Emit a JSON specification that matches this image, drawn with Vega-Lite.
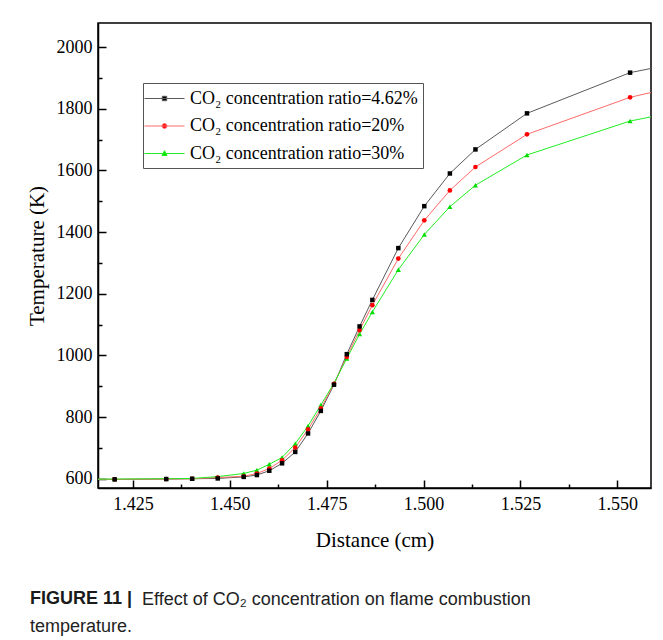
{
  "$schema": "https://vega.github.io/schema/vega-lite/v6.json",
  "padding": {"left": 25, "top": 22, "right": 5, "bottom": 5},
  "background": "white",
  "title": {
    "text": "Effect of CO₂ concentration on flame combustion",
    "orient": "bottom",
    "anchor": "start",
    "frame": "group",
    "dx": 44,
    "dy": -46,
    "offset": 0,
    "font": "Liberation Sans",
    "fontSize": 18,
    "fontWeight": "normal",
    "color": "#222222"
  },
  "vconcat": [
    {
      "width": 553,
      "height": 465,
      "title": {
        "text": "FIGURE 11 |",
        "orient": "bottom",
        "anchor": "start",
        "frame": "group",
        "dx": -68,
        "offset": 40,
        "font": "Liberation Sans",
        "fontSize": 18,
        "fontWeight": "bold",
        "color": "#1a1a1a",
        "subtitle": "temperature.",
        "subtitleFont": "Liberation Sans",
        "subtitleFontSize": 18,
        "subtitleColor": "#222222",
        "subtitlePadding": 10
      },
      "data": {
        "values": [
          {"d": 1.4070, "T": 598, "s": "4.62%"}, {"d": 1.4070, "T": 598, "s": "20%"}, {"d": 1.4070, "T": 598, "s": "30%"},
          {"d": 1.4203, "T": 598, "s": "4.62%"}, {"d": 1.4203, "T": 598, "s": "20%"}, {"d": 1.4203, "T": 599, "s": "30%"},
          {"d": 1.4336, "T": 599, "s": "4.62%"}, {"d": 1.4336, "T": 599, "s": "20%"}, {"d": 1.4336, "T": 600, "s": "30%"},
          {"d": 1.4403, "T": 600, "s": "4.62%"}, {"d": 1.4403, "T": 600, "s": "20%"}, {"d": 1.4403, "T": 601, "s": "30%"},
          {"d": 1.4469, "T": 601, "s": "4.62%"}, {"d": 1.4469, "T": 604, "s": "20%"}, {"d": 1.4469, "T": 607, "s": "30%"},
          {"d": 1.4536, "T": 606, "s": "4.62%"}, {"d": 1.4536, "T": 608, "s": "20%"}, {"d": 1.4536, "T": 617, "s": "30%"},
          {"d": 1.4570, "T": 612, "s": "4.62%"}, {"d": 1.4570, "T": 617, "s": "20%"}, {"d": 1.4570, "T": 628, "s": "30%"},
          {"d": 1.4602, "T": 626, "s": "4.62%"}, {"d": 1.4602, "T": 633, "s": "20%"}, {"d": 1.4602, "T": 647, "s": "30%"},
          {"d": 1.4635, "T": 650, "s": "4.62%"}, {"d": 1.4635, "T": 660, "s": "20%"}, {"d": 1.4635, "T": 669, "s": "30%"},
          {"d": 1.4669, "T": 687, "s": "4.62%"}, {"d": 1.4669, "T": 701, "s": "20%"}, {"d": 1.4669, "T": 714, "s": "30%"},
          {"d": 1.4702, "T": 747, "s": "4.62%"}, {"d": 1.4702, "T": 760, "s": "20%"}, {"d": 1.4702, "T": 771, "s": "30%"},
          {"d": 1.4735, "T": 820, "s": "4.62%"}, {"d": 1.4735, "T": 828, "s": "20%"}, {"d": 1.4735, "T": 839, "s": "30%"},
          {"d": 1.4769, "T": 905, "s": "4.62%"}, {"d": 1.4769, "T": 908, "s": "20%"}, {"d": 1.4769, "T": 910, "s": "30%"},
          {"d": 1.4802, "T": 1004, "s": "4.62%"}, {"d": 1.4802, "T": 995, "s": "20%"}, {"d": 1.4802, "T": 990, "s": "30%"},
          {"d": 1.4835, "T": 1094, "s": "4.62%"}, {"d": 1.4835, "T": 1082, "s": "20%"}, {"d": 1.4835, "T": 1069, "s": "30%"},
          {"d": 1.4868, "T": 1180, "s": "4.62%"}, {"d": 1.4868, "T": 1163, "s": "20%"}, {"d": 1.4868, "T": 1141, "s": "30%"},
          {"d": 1.4935, "T": 1348, "s": "4.62%"}, {"d": 1.4935, "T": 1314, "s": "20%"}, {"d": 1.4935, "T": 1278, "s": "30%"},
          {"d": 1.5002, "T": 1484, "s": "4.62%"}, {"d": 1.5002, "T": 1438, "s": "20%"}, {"d": 1.5002, "T": 1392, "s": "30%"},
          {"d": 1.5068, "T": 1590, "s": "4.62%"}, {"d": 1.5068, "T": 1535, "s": "20%"}, {"d": 1.5068, "T": 1482, "s": "30%"},
          {"d": 1.5134, "T": 1668, "s": "4.62%"}, {"d": 1.5134, "T": 1611, "s": "20%"}, {"d": 1.5134, "T": 1552, "s": "30%"},
          {"d": 1.5267, "T": 1785, "s": "4.62%"}, {"d": 1.5267, "T": 1717, "s": "20%"}, {"d": 1.5267, "T": 1650, "s": "30%"},
          {"d": 1.5533, "T": 1917, "s": "4.62%"}, {"d": 1.5533, "T": 1837, "s": "20%"}, {"d": 1.5533, "T": 1760, "s": "30%"},
          {"d": 1.5800, "T": 1984, "s": "4.62%"}, {"d": 1.5800, "T": 1914, "s": "20%"}, {"d": 1.5800, "T": 1827, "s": "30%"}
        ]
      },
      "layer": [
        {
          "mark": {"type": "line", "strokeWidth": 1, "clip": true},
          "encoding": {
            "x": {
              "field": "d", "type": "quantitative",
              "scale": {"domain": [1.416, 1.5587], "nice": false, "zero": false},
              "axis": {
                "orient": "bottom",
                "values": [1.425, 1.45, 1.475, 1.5, 1.525, 1.55],
                "format": ".3f",
                "tickSize": -8,
                "labelPadding": 15,
                "title": "Distance (cm)",
                "titlePadding": 16
              }
            },
            "y": {
              "field": "T", "type": "quantitative",
              "scale": {"domain": [570, 2078], "nice": false, "zero": false},
              "axis": {
                "orient": "left",
                "values": [600, 800, 1000, 1200, 1400, 1600, 1800, 2000],
                "format": "d",
                "tickSize": -8,
                "labelPadding": 14,
                "title": "Temperature (K)",
                "titlePadding": 9
              }
            },
            "stroke": {
              "field": "s", "type": "nominal",
              "scale": {"domain": ["4.62%", "20%", "30%"], "range": ["#5a5a5a", "#ff6a6a", "#22ee22"]},
              "legend": {
                "orient": "none",
                "legendX": 45,
                "legendY": 60,
                "title": null,
                "labelExpr": "'CO₂ concentration ratio=' + datum.label",
                "labelFont": "Liberation Serif",
                "labelFontSize": 18,
                "labelColor": "black",
                "labelLimit": 0,
                "labelOffset": 15,
                "symbolSize": 400,
                "symbolStrokeWidth": 1,
                "symbolType": "M-2,0H2",
                "symbolOffset": 6,
                "strokeColor": "#555555",
                "fillColor": "white",
                "padding": 5,
                "rowPadding": 7.5,
                "encode": {
                  "symbols": {
                    "update": {
                      "shape": {"signal": "datum.value === '4.62%' ? 'M-2,0H2M-0.22,-0.22H0.22V0.22H-0.22Z' : (datum.value === '20%' ? 'M-2,0H2M-0.24,0A0.24,0.24 0 1,0 0.24,0A0.24,0.24 0 1,0 -0.24,0Z' : 'M-2,0H2M0,-0.28L0.26,0.2H-0.26Z')"},
                      "fill": {"signal": "datum.value === '4.62%' ? '#000000' : (datum.value === '20%' ? '#ff0000' : '#00dd00')"}
                    }
                  }
                }
              }
            }
          }
        },
        {
          "transform": [{"filter": "datum.s === '30%'"}],
          "mark": {"type": "point", "filled": true, "opacity": 1, "size": 26, "shape": "triangle-up", "color": "#00dd00", "clip": true},
          "encoding": {
            "x": {
              "field": "d", "type": "quantitative",
              "axis": {
                "orient": "bottom",
                "values": [1.4375, 1.4625, 1.4875, 1.5125, 1.5375],
                "labels": false, "domain": false, "tickSize": -4, "title": null
              }
            },
            "y": {
              "field": "T", "type": "quantitative",
              "axis": {
                "orient": "left",
                "values": [700, 900, 1100, 1300, 1500, 1700, 1900],
                "labels": false, "domain": false, "tickSize": -4, "title": null
              }
            }
          }
        },
        {
          "transform": [{"filter": "datum.s === '20%'"}],
          "mark": {"type": "point", "filled": true, "opacity": 1, "size": 22, "shape": "circle", "color": "#ff0000", "clip": true},
          "encoding": {
            "x": {"field": "d", "type": "quantitative", "axis": null},
            "y": {"field": "T", "type": "quantitative", "axis": null}
          }
        },
        {
          "transform": [{"filter": "datum.s === '4.62%'"}],
          "mark": {"type": "point", "filled": true, "opacity": 1, "size": 20, "shape": "square", "color": "#000000", "clip": true},
          "encoding": {
            "x": {"field": "d", "type": "quantitative", "axis": null},
            "y": {"field": "T", "type": "quantitative", "axis": null}
          }
        }
      ],
      "resolve": {"axis": {"x": "independent", "y": "independent"}}
    }
  ],
  "config": {
    "view": {"stroke": "black", "strokeWidth": 1.5},
    "axis": {
      "domainColor": "black",
      "domainWidth": 1.5,
      "tickColor": "black",
      "tickWidth": 1.5,
      "labelFont": "Liberation Serif",
      "labelFontSize": 18,
      "labelColor": "black",
      "titleFont": "Liberation Serif",
      "titleFontSize": 21,
      "titleFontWeight": "normal",
      "titleColor": "black",
      "grid": false
    }
  }
}
